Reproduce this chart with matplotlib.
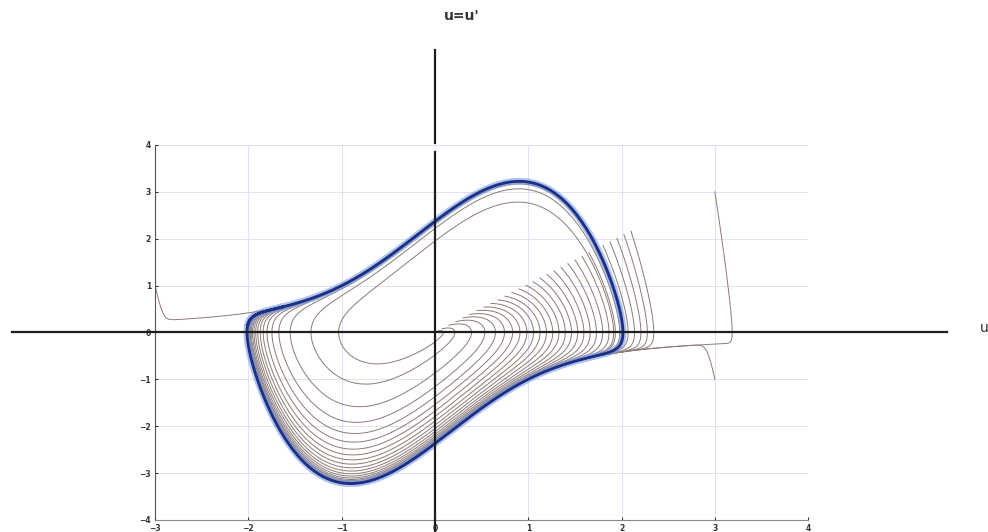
import numpy as np
import matplotlib.pyplot as plt

# Van der Pol phase portrait  u'' - mu (1 - u^2) u' + u = 0
MU = 1.5

# starting points (a line of points near u' = u)
diag_x0 = [0.03] + [round(0.075 * k, 3) for k in range(1, 29)]
diag_y0 = [round(1.03 * v, 3) for v in diag_x0]
outer_x0 = [-3.0, 3.0, 3.0]
outer_y0 = [1.0, 3.0, -1.0]

x_ticks = [-3, -2, -1, 0, 1, 2, 3, 4]
y_ticks = [-4, -3, -2, -1, 0, 1, 2, 3, 4]

T_END = 20.0
DT = 0.01


def vdp(s):
    x, y = s
    return np.array([y, MU * (1 - x ** 2) * y - x])


def integrate(x0, y0, t_end=T_END, dt=DT):
    s = np.array([x0, y0], dtype=float)
    out = [s.copy()]
    for _ in range(int(t_end / dt)):
        k1 = vdp(s)
        k2 = vdp(s + dt / 2 * k1)
        k3 = vdp(s + dt / 2 * k2)
        k4 = vdp(s + dt * k3)
        s = s + dt / 6 * (k1 + 2 * k2 + 2 * k3 + k4)
        out.append(s.copy())
    return np.array(out)


fig = plt.figure(figsize=(9.88, 5.32), dpi=100)
ax = fig.add_axes([0.157, 0.0226, 0.661, 0.705])
ax.set_xlim(-3, 4)
ax.set_ylim(-4, 4)

traj_col = '#8c7a76'
for x0, y0 in zip(diag_x0 + outer_x0, diag_y0 + outer_y0):
    tr = integrate(x0, y0)
    ax.plot(tr[:, 0], tr[:, 1], color=traj_col, lw=0.7, zorder=2)

# limit cycle
cyc = integrate(2.0, 0.0, t_end=40)
cyc = cyc[-800:]
ax.plot(cyc[:, 0], cyc[:, 1], color='#7b9be0', lw=5, alpha=0.6, zorder=3)
ax.plot(cyc[:, 0], cyc[:, 1], color='#1c2f86', lw=2.0, zorder=4)

ax.set_xticks(x_ticks)
ax.set_yticks(y_ticks)
ax.tick_params(direction='in', length=2, labelsize=5.5, pad=3, colors='#333333')
for lab in ax.get_xticklabels() + ax.get_yticklabels():
    lab.set_fontweight('bold')
ax.grid(True, color='#dde2f2', lw=0.7)
ax.spines['top'].set_visible(False)
ax.spines['right'].set_visible(False)
ax.spines['left'].set_color('#555555')
ax.spines['bottom'].set_color('#888888')
ax.spines['left'].set_linewidth(0.8)
ax.spines['bottom'].set_linewidth(0.8)

# hand-drawn coordinate axes
ax.plot([-4.53, 5.49], [0, 0], color='#1e1e1e', lw=1.6, clip_on=False, zorder=5)
ax.plot([0, 0], [6.03, 4.05], color='#1e1e1e', lw=1.6, clip_on=False, zorder=5)
ax.plot([0, 0], [3.84, -4.3], color='#1e1e1e', lw=1.6, clip_on=False, zorder=5)
ax.text(0.29, 6.75, "u=u'", fontsize=10, fontweight='bold', color='#333333',
        ha='center', va='center', clip_on=False)
ax.text(5.93, 0.1, 'u', fontsize=10, color='#333333', ha='right', va='center',
        clip_on=False)

fig.savefig('out.png', dpi=100)
